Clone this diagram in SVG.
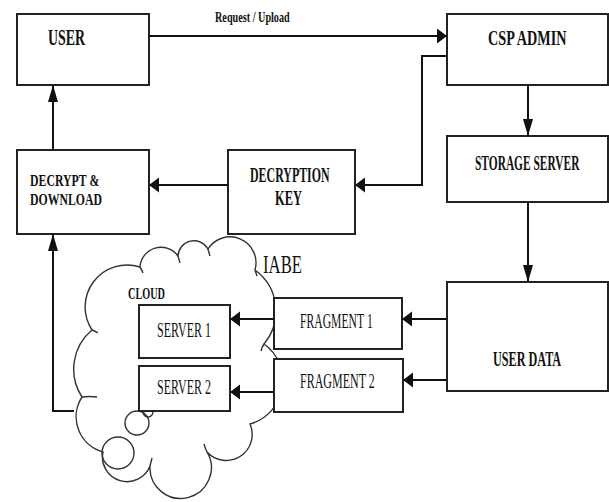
<svg xmlns="http://www.w3.org/2000/svg" width="609" height="502" viewBox="0 0 609 502">
<style>
.box{fill:#fff;stroke:#222;stroke-width:2}
.ln{fill:none;stroke:#111;stroke-width:2}
.cl{fill:#fff;stroke:#333;stroke-width:1.4}
.ci{fill:none;stroke:#333;stroke-width:1.4}
.tb{font-family:"Liberation Serif","Times New Roman",serif;font-weight:bold;fill:#111}
.tn{font-family:"Liberation Serif","Times New Roman",serif;font-weight:normal;fill:#111}
</style>
<defs>
<marker id="ah" markerUnits="userSpaceOnUse" markerWidth="11" markerHeight="16" refX="10" refY="7.5" orient="auto"><path d="M0,0 L10,7.5 L0,15 z" fill="#111"/></marker>
<marker id="av" markerUnits="userSpaceOnUse" markerWidth="18" markerHeight="11" refX="17" refY="5" orient="auto"><path d="M0,0 L17,5 L0,10 z" fill="#111"/></marker>
</defs>

<g id="cloud">
<path class="cl" d="M92,330 A42,42 0 0 1 140,267 A21,21 0 0 1 178,256 A16,16 0 0 1 208,249 A26,26 0 0 1 255,270 A51,51 0 0 1 264,344 A45,45 0 0 1 250,424 A26,26 0 0 1 207,452 A30.7,30.7 0 1 1 150,466 A24.6,24.6 0 0 1 103,452 A36.5,36.5 0 0 1 82,397 A51,51 0 0 1 92,330 Z"/>
<path class="ci" d="M92,330 Q95,331 98,333 M82,397 Q90,396 97,397 M140,267 Q142,270 143,273 M178,256 Q179,259 180,263 M208,249 Q209,253 210,256 M255,270 Q256,273 257,276 M264,344 Q262,347 261,351 M207,452 Q205,448 204,444 M150,466 Q151,462 152,458"/>
<circle class="ci" cx="148" cy="412" r="5"/>
<circle class="ci" cx="137" cy="423" r="12"/>
<circle class="ci" cx="118" cy="453" r="16"/>
<text class="tb" transform="translate(128,299) scale(0.603,1)" font-size="17">CLOUD</text>
</g>

<g id="user"><rect class="box" x="17" y="14" width="132" height="71"/>
<text class="tb" transform="translate(48,45) scale(0.578,1)" font-size="24">USER</text></g>

<g id="csp-admin"><rect class="box" x="447" y="14" width="161" height="71"/>
<text class="tb" transform="translate(488,45) scale(0.645,1)" font-size="22">CSP ADMIN</text></g>

<g id="storage-server"><rect class="box" x="447" y="136" width="161" height="66"/>
<text class="tb" transform="translate(475,170) scale(0.544,1)" font-size="21">STORAGE SERVER</text></g>

<g id="user-data"><rect class="box" x="447" y="282" width="161" height="109"/>
<text class="tb" transform="translate(493,366) scale(0.553,1)" font-size="22">USER DATA</text></g>

<g id="decrypt-download"><rect class="box" x="17" y="150" width="132" height="84"/>
<text class="tb" transform="translate(30,186) scale(0.695,1)" font-size="17">DECRYPT &amp;</text>
<text class="tb" transform="translate(30,205) scale(0.693,1)" font-size="17">DOWNLOAD</text></g>

<g id="decryption-key"><rect class="box" x="228" y="150" width="127" height="84"/>
<text class="tb" transform="translate(250,182) scale(0.567,1)" font-size="21">DECRYPTION</text>
<text class="tb" transform="translate(275,205) scale(0.623,1)" font-size="20">KEY</text></g>

<g id="fragment-1"><rect class="box" x="274" y="298" width="128" height="51"/>
<text class="tn" transform="translate(300,328) scale(0.584,1)" font-size="20">FRAGMENT 1</text></g>

<g id="fragment-2"><rect class="box" x="274" y="359" width="129" height="53"/>
<text class="tn" transform="translate(300,388) scale(0.6,1)" font-size="20">FRAGMENT 2</text></g>

<g id="server-1"><rect class="box" x="139" y="305" width="91" height="53"/>
<text class="tn" transform="translate(157,337) scale(0.6,1)" font-size="20">SERVER 1</text></g>

<g id="server-2"><rect class="box" x="139" y="366" width="91" height="45"/>
<text class="tn" transform="translate(157,394) scale(0.6,1)" font-size="20">SERVER 2</text></g>

<g id="iabe"><text class="tn" transform="translate(263,273) scale(0.643,1)" font-size="26">IABE</text></g>

<g id="connectors">
<path class="ln" d="M149,36 H447" marker-end="url(#ah)"/>
<text class="tb" transform="translate(215,22) scale(0.68,1)" font-size="15">Request / Upload</text>
<path class="ln" d="M447,56 H422 V185 H355" marker-end="url(#ah)"/>
<path class="ln" d="M528,85 V136" marker-end="url(#av)"/>
<path class="ln" d="M528,202 V282" marker-end="url(#av)"/>
<path class="ln" d="M447,319 H402" marker-end="url(#ah)"/>
<path class="ln" d="M447,380 H403" marker-end="url(#ah)"/>
<path class="ln" d="M274,319 H230" marker-end="url(#ah)"/>
<path class="ln" d="M274,392 H230" marker-end="url(#ah)"/>
<path class="ln" d="M228,185 H149" marker-end="url(#ah)"/>
<path class="ln" d="M53,150 V85" marker-end="url(#av)"/>
<path class="ln" d="M74,411 H53 V234" marker-end="url(#av)"/>
</g>
</svg>
